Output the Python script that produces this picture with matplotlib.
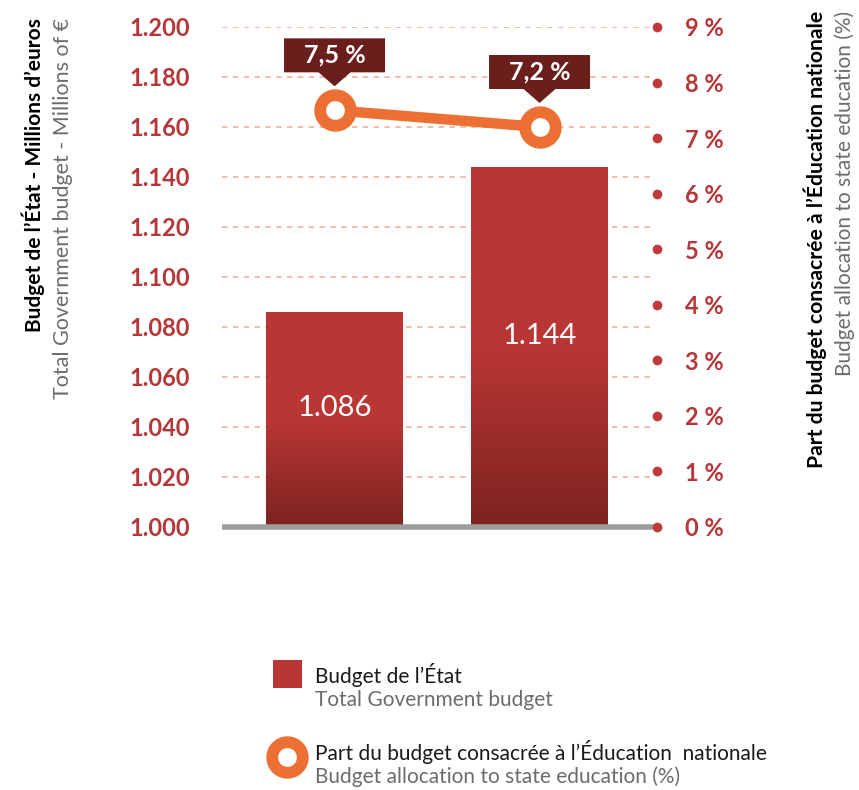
import numpy as np
import matplotlib.pyplot as plt
from matplotlib import transforms as mtransforms
from matplotlib.colors import LinearSegmentedColormap
from matplotlib.patches import Polygon, Rectangle

plt.rcParams['font.family'] = ['Lato', 'DejaVu Sans']

# data
years = [0, 1]
budget = [1.086, 1.144]          # milliards, shown as "1.086"
budget_labels = ['1.086', '1.144']
share = [7.5, 7.2]               # % to education
share_labels = ['7,5 %', '7,2 %']
left_ticks = [1.000, 1.020, 1.040, 1.060, 1.080, 1.100, 1.120, 1.140, 1.160, 1.180, 1.200]
left_ticklabels = ['1.000', '1.020', '1.040', '1.060', '1.080', '1.100',
                   '1.120', '1.140', '1.160', '1.180', '1.200']
right_ticks = list(range(10))
right_ticklabels = [f'{i} %' for i in right_ticks]

RED = '#b93634'
DARK_RED = '#7c231f'
TICK_RED = '#b5373a'
ORANGE = '#ec7034'
BOX = '#6b1f1d'
GRID = '#f1b6a5'
GREY_TXT = '#6c6c6c'

fig = plt.figure(figsize=(8.59, 7.90), dpi=100)
ax = fig.add_axes([222 / 859, 263 / 790, 435 / 859, 500 / 790])
ax2 = ax.twinx()

xmin, xmax = -0.549, 1.573
ymin, ymax = 1.000, 1.200
bar_w = 0.668

# dashed grid lines, grey baseline
for t in left_ticks[1:]:
    ax.plot([xmin, xmax - 0.01], [t, t], color=GRID, lw=1.3, ls=(0, (3, 3)), zorder=1)
ax.plot([xmin, xmax - 0.01], [ymin, ymin], color='#9d9d9d', lw=4, zorder=3,
        clip_on=False, solid_capstyle='butt')

# bars with vertical gradient
cmap = LinearSegmentedColormap.from_list('bar', [(0, DARK_RED), (0.5, RED), (1, RED)])
grad = np.linspace(0, 1, 256).reshape(-1, 1)
for x, v in zip(years, budget):
    rect = Rectangle((x - bar_w / 2, ymin), bar_w, v - ymin, facecolor='none', edgecolor='none')
    ax.add_patch(rect)
    im = ax.imshow(grad, cmap=cmap, origin='lower', aspect='auto',
                   extent=[x - bar_w / 2, x + bar_w / 2, ymin, v], zorder=2)
    im.set_clip_path(rect)

for x, v, lab in zip(years, budget, budget_labels):
    ax.annotate(lab, (x, (ymin + v) / 2), xytext=(0, 8), textcoords='offset points',
                ha='center', va='center', color='white', fontsize=21, zorder=4)

ax.set_xlim(xmin, xmax)
ax.set_ylim(ymin, ymax)
ax.set_yticks(left_ticks)
ax.set_yticklabels(left_ticklabels)
ax.tick_params(axis='y', length=0, pad=23, labelsize=17, labelcolor=TICK_RED)
for lab in ax.get_yticklabels():
    lab.set_fontweight('bold')
ax.set_xticks([])
for s in ax.spines.values():
    s.set_visible(False)

# share line on the right axis
ax2.set_ylim(0, 9)
ax2.plot(years, share, color=ORANGE, lw=7.5, zorder=5,
         marker='o', markersize=22, markerfacecolor='white',
         markeredgecolor=ORANGE, markeredgewidth=8.5)
ax2.plot([xmax] * len(right_ticks), right_ticks, 'o', color='#c0393b',
         markersize=6, clip_on=False, zorder=5)
ax2.set_yticks(right_ticks)
ax2.set_yticklabels(right_ticklabels)
ax2.tick_params(axis='y', length=0, pad=20, labelsize=17, labelcolor=TICK_RED)
for lab in ax2.get_yticklabels():
    lab.set_fontweight('bold')
for s in ax2.spines.values():
    s.set_visible(False)

# value callouts above the markers (shape in pixels)
px = 1 / fig.dpi
for x, v, lab in zip(years, share, share_labels):
    trans = fig.dpi_scale_trans + mtransforms.ScaledTranslation(x, v, ax2.transData)
    verts = np.array([[-50.5, 38], [-16, 38], [0, 24], [16, 38], [50.5, 38],
                      [50.5, 72], [-50.5, 72]]) * px
    ax2.add_patch(Polygon(verts, closed=True, facecolor=BOX, edgecolor='none',
                          transform=trans, zorder=6, clip_on=False))
    ax2.annotate(lab, (x, v), xytext=(0, 55 * 0.72), textcoords='offset points',
                 ha='center', va='center', color='white', fontsize=18,
                 fontweight='bold', zorder=7)

# axis titles
fig.text(33 / 859, 1 - 18 / 790, 'Budget de l\u2019\u00c9tat - Millions d\u2019euros',
         rotation=90, ha='center', va='top', fontsize=15, fontweight='bold', color='black')
fig.text(63 / 859, 1 - 18 / 790, 'Total Government budget - Millions of \u20ac',
         rotation=90, ha='center', va='top', fontsize=15.5, fontweight='normal', color=GREY_TXT)
fig.text(815 / 859, 1 - 11 / 790, 'Part du budget consacr\u00e9e \u00e0 l\u2019\u00c9ducation nationale',
         rotation=90, ha='center', va='top', fontsize=15.2, fontweight='bold', color='black')
fig.text(845 / 859, 1 - 11 / 790, 'Budget allocation to state education (%)',
         rotation=90, ha='center', va='top', fontsize=15, fontweight='normal', color=GREY_TXT)

# legend
fig.patches.append(Rectangle((273 / 859, 1 - 688 / 790), 29 / 859, 28 / 790,
                             transform=fig.transFigure, facecolor=RED, edgecolor='none'))
fig.text(315 / 859, 1 - 675 / 790, 'Budget de l\u2019\u00c9tat', ha='left', va='center',
         fontsize=15, fontweight='normal', color='#1a1a1a')
fig.text(315 / 859, 1 - 700 / 790, 'Total Government budget', ha='left', va='center',
         fontsize=15, fontweight='normal', color=GREY_TXT)
leg_ax = fig.add_axes([0, 0, 1, 1], facecolor='none')
leg_ax.set_axis_off()
leg_ax.set_xlim(0, 859)
leg_ax.set_ylim(790, 0)
leg_ax.plot([287], [757], 'o', markersize=22, markerfacecolor='white',
            markeredgecolor=ORANGE, markeredgewidth=8.5)
fig.text(315 / 859, 1 - 752 / 790, 'Part du budget consacr\u00e9e \u00e0 l\u2019\u00c9ducation  nationale',
         ha='left', va='center', fontsize=15, fontweight='normal', color='#1a1a1a')
fig.text(315 / 859, 1 - 777 / 790, 'Budget allocation to state education (%)',
         ha='left', va='center', fontsize=15, fontweight='normal', color=GREY_TXT)

fig.savefig('out.png', dpi=100)
